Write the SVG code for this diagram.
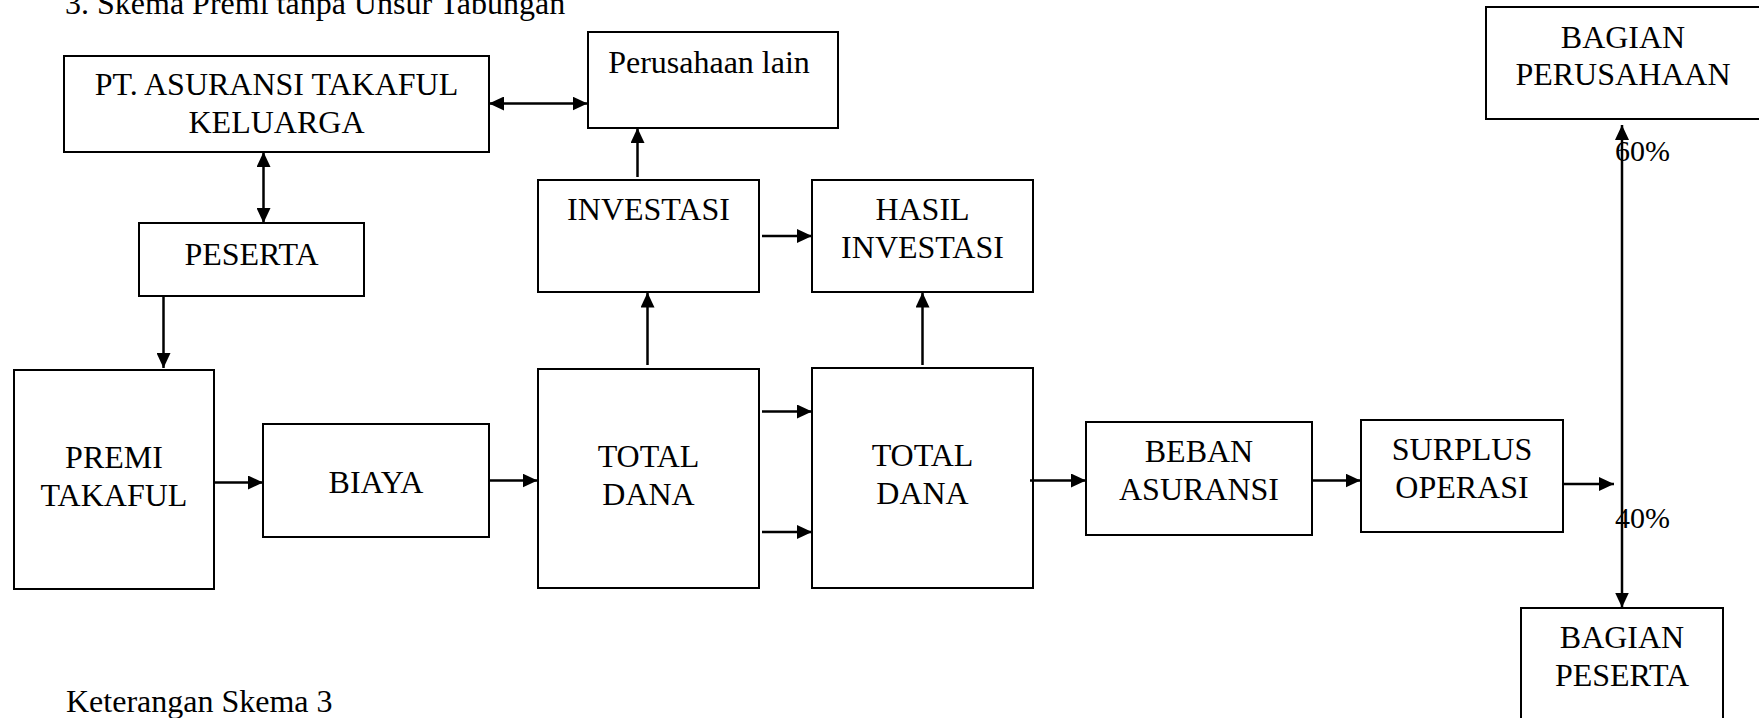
<svg xmlns="http://www.w3.org/2000/svg" width="1759" height="718" viewBox="0 0 1759 718">
<style>
  text { font-family: "Liberation Serif", "Times New Roman", serif; font-size: 32px; fill: #000; }
  .c { text-anchor: middle; }
  .box { fill: #fff; stroke: #000; stroke-width: 2; }
  .conn line { stroke: #000; stroke-width: 2.5; fill: none; }
  .pct { font-size: 30px; }
</style>
<defs>
  <marker id="ah" markerUnits="userSpaceOnUse" markerWidth="16" markerHeight="14" refX="15" refY="7" orient="auto-start-reverse">
    <path d="M0,0 L15,7 L0,14 z" fill="#000"/>
  </marker>
</defs>
<rect width="1759" height="718" fill="#fff"/>

<text x="65" y="13.5">3. Skema Premi tanpa Unsur Tabungan</text>
<text x="66" y="711.5">Keterangan Skema 3</text>

<g id="pt">
  <rect class="box" x="64" y="56" width="425" height="96"/>
  <text class="c" x="276.5" y="95">PT. ASURANSI TAKAFUL</text>
  <text class="c" x="276.5" y="133">KELUARGA</text>
</g>
<g id="perusahaan-lain">
  <rect class="box" x="588" y="32" width="250" height="96"/>
  <text class="c" x="709" y="73">Perusahaan lain</text>
</g>
<g id="peserta">
  <rect class="box" x="139" y="223" width="225" height="73"/>
  <text class="c" x="251.5" y="265">PESERTA</text>
</g>
<g id="investasi">
  <rect class="box" x="538" y="180" width="221" height="112"/>
  <text class="c" x="648.5" y="220">INVESTASI</text>
</g>
<g id="hasil-investasi">
  <rect class="box" x="812" y="180" width="221" height="112"/>
  <text class="c" x="922.5" y="220">HASIL</text>
  <text class="c" x="922.5" y="258">INVESTASI</text>
</g>
<g id="premi">
  <rect class="box" x="14" y="370" width="200" height="219"/>
  <text class="c" x="114" y="468">PREMI</text>
  <text class="c" x="114" y="506">TAKAFUL</text>
</g>
<g id="biaya">
  <rect class="box" x="263" y="424" width="226" height="113"/>
  <text class="c" x="376" y="493">BIAYA</text>
</g>
<g id="total-dana-1">
  <rect class="box" x="538" y="369" width="221" height="219"/>
  <text class="c" x="648.5" y="467">TOTAL</text>
  <text class="c" x="648.5" y="505">DANA</text>
</g>
<g id="total-dana-2">
  <rect class="box" x="812" y="368" width="221" height="220"/>
  <text class="c" x="922.5" y="466">TOTAL</text>
  <text class="c" x="922.5" y="503.5">DANA</text>
</g>
<g id="beban-asuransi">
  <rect class="box" x="1086" y="422" width="226" height="113"/>
  <text class="c" x="1199" y="462">BEBAN</text>
  <text class="c" x="1199" y="500">ASURANSI</text>
</g>
<g id="surplus-operasi">
  <rect class="box" x="1361" y="420" width="202" height="112"/>
  <text class="c" x="1462" y="460">SURPLUS</text>
  <text class="c" x="1462" y="498">OPERASI</text>
</g>
<g id="bagian-perusahaan">
  <rect class="box" x="1486" y="7" width="274" height="112"/>
  <text class="c" x="1623" y="47.5">BAGIAN</text>
  <text class="c" x="1623" y="85">PERUSAHAAN</text>
</g>
<g id="bagian-peserta">
  <rect class="box" x="1521" y="608" width="202" height="125"/>
  <text class="c" x="1622" y="647.5">BAGIAN</text>
  <text class="c" x="1622" y="686">PESERTA</text>
</g>

<g id="connectors" class="conn">
  <line x1="489" y1="103.5" x2="587.5" y2="103.5" marker-start="url(#ah)" marker-end="url(#ah)"/>
  <line x1="263.5" y1="152" x2="263.5" y2="223" marker-start="url(#ah)" marker-end="url(#ah)"/>
  <line x1="163.5" y1="296" x2="163.5" y2="368" marker-end="url(#ah)"/>
  <line x1="214" y1="482.5" x2="263" y2="482.5" marker-end="url(#ah)"/>
  <line x1="489" y1="480.5" x2="537.5" y2="480.5" marker-end="url(#ah)"/>
  <line x1="647.5" y1="365" x2="647.5" y2="292.5" marker-end="url(#ah)"/>
  <line x1="637.5" y1="177" x2="637.5" y2="128" marker-end="url(#ah)"/>
  <line x1="762" y1="236" x2="812" y2="236" marker-end="url(#ah)"/>
  <line x1="762" y1="411.5" x2="812" y2="411.5" marker-end="url(#ah)"/>
  <line x1="762" y1="532" x2="812" y2="532" marker-end="url(#ah)"/>
  <line x1="922.5" y1="365" x2="922.5" y2="292.5" marker-end="url(#ah)"/>
  <line x1="1030" y1="480.5" x2="1086" y2="480.5" marker-end="url(#ah)"/>
  <line x1="1312" y1="480.5" x2="1360.5" y2="480.5" marker-end="url(#ah)"/>
  <line x1="1563" y1="484" x2="1614" y2="484" marker-end="url(#ah)"/>
  <line x1="1622" y1="125" x2="1622" y2="607.5" marker-start="url(#ah)" marker-end="url(#ah)"/>
</g>

<text class="pct" x="1615" y="160.5">60%</text>
<text class="pct" x="1615" y="527.5">40%</text>
</svg>
